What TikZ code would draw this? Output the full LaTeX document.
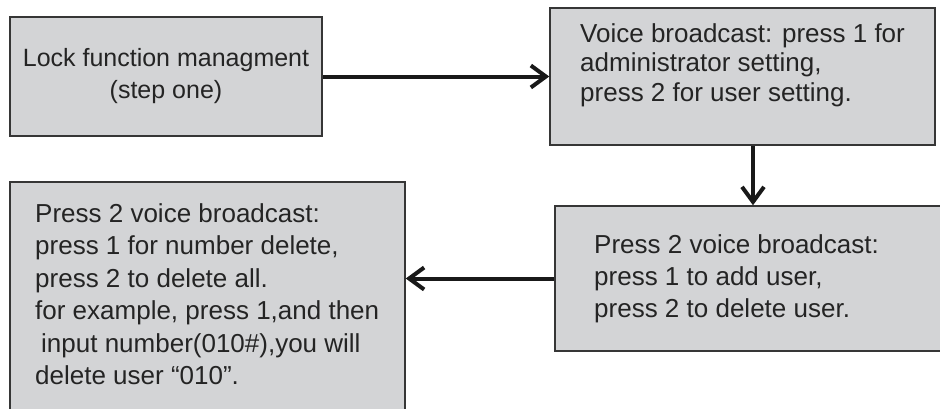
\documentclass[tikz,border=0pt]{standalone}
\usepackage{fontspec}
\setmainfont{Liberation Sans}
\usetikzlibrary{arrows.meta}
\definecolor{boxfill}{HTML}{D3D4D6}
\definecolor{boxline}{HTML}{363636}
\definecolor{boxtext}{HTML}{242424}
\begin{document}
\begin{tikzpicture}[x=1pt,y=-1pt,
  box/.style={draw=boxline,fill=boxfill,line width=1.5pt,inner sep=0pt},
  txt/.style={inner sep=0pt,align=left,text=boxtext,anchor=north west},
  arr/.style={line width=4pt,draw=black!90,-{Straight Barb[length=15pt,width=22pt]}}]
\useasboundingbox (0,0) rectangle (940,408);
\node [box,minimum width=312,minimum height=119,align=center,text=boxtext,font=\fontsize{25}{32}\selectfont] (b1) at (166,76.5) {Lock function managment\\(step one)};
\node [box,minimum width=385,minimum height=137] (b2) at (742.5,76.5) {};
\node [box,minimum width=390,minimum height=145] (b3) at (750,278.5) {};
\node [box,minimum width=395,minimum height=233] (b4) at (207.5,298.5) {};
\node [txt,font=\fontsize{26}{29.5}\selectfont] (t2) at (580,23) {Voice broadcast: press 1 for\\administrator setting,\\press 2 for user setting.};
\node [txt,font=\fontsize{26}{32}\selectfont] (t3) at (594,234) {Press 2 voice broadcast:\\press 1 to add user,\\press 2 to delete user.};
\node [txt,font=\fontsize{26}{32.5}\selectfont] (t4) at (35,203) {Press 2 voice broadcast:\\press 1 for number delete,\\press 2 to delete all.\\for example, press 1,and then\\\hspace*{6pt}input number(010\#),you will\\delete user “010”.};
\coordinate (dn) at (753,0);
\draw [arr] (b1.east) -- (b2.west);
\draw [arr] (b2.south -| dn) -- (b3.north -| dn);
\draw [arr] (b3.west) -- (b4.east |- b3.west);
\end{tikzpicture}
\end{document}
